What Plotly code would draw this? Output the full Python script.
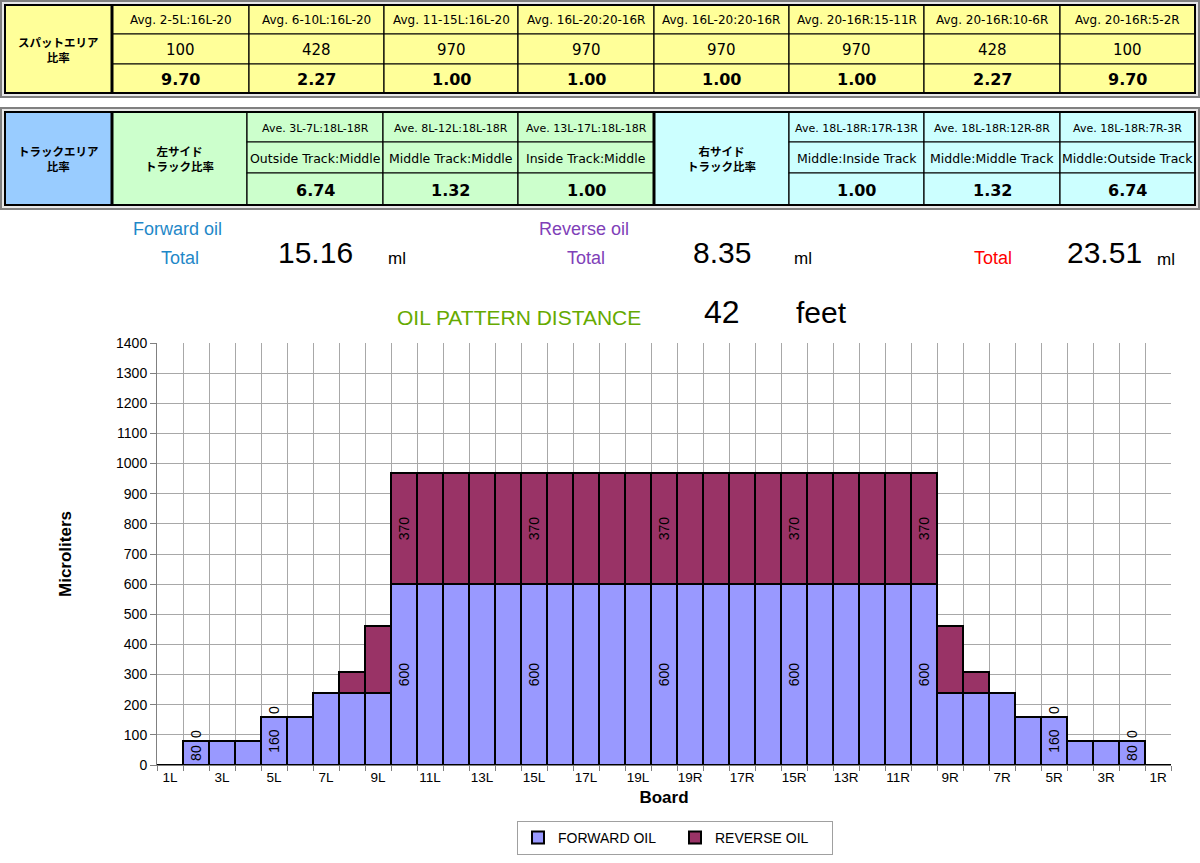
import plotly.graph_objects as go

# ---- data ----
boards = [f"{i}L" for i in range(1, 20)] + ["20"] + [f"{i}R" for i in range(19, 0, -1)]
forward_oil = [0, 80, 80, 80, 160, 160, 240, 240, 240] + [600] * 21 + [240, 240, 240, 160, 160, 80, 80, 80, 0]
reverse_oil = [0, 0, 0, 0, 0, 0, 0, 70, 220] + [370] * 21 + [220, 70, 0, 0, 0, 0, 0, 0, 0]
label_boards = ["2L", "5L", "10L", "15L", "20", "15R", "10R", "5R", "2R"]
tick_labels = [b if i % 2 == 0 else "" for i, b in enumerate(boards)]

spot_head = "スパットエリア<br>比率"
spot_ranges = ["Avg. 2-5L:16L-20", "Avg. 6-10L:16L-20", "Avg. 11-15L:16L-20", "Avg. 16L-20:20-16R",
               "Avg. 16L-20:20-16R", "Avg. 20-16R:15-11R", "Avg. 20-16R:10-6R", "Avg. 20-16R:5-2R"]
spot_values = ["100", "428", "970", "970", "970", "970", "428", "100"]
spot_ratios = ["9.70", "2.27", "1.00", "1.00", "1.00", "1.00", "2.27", "9.70"]

track_head = "トラックエリア<br>比率"
left_head = "左サイド<br>トラック比率"
right_head = "右サイド<br>トラック比率"
left_ranges = ["Ave. 3L-7L:18L-18R", "Ave. 8L-12L:18L-18R", "Ave. 13L-17L:18L-18R"]
left_names = ["Outside Track:Middle", "Middle Track:Middle", "Inside Track:Middle"]
left_ratios = ["6.74", "1.32", "1.00"]
right_ranges = ["Ave. 18L-18R:17R-13R", "Ave. 18L-18R:12R-8R", "Ave. 18L-18R:7R-3R"]
right_names = ["Middle:Inside Track", "Middle:Middle Track", "Middle:Outside Track"]
right_ratios = ["1.00", "1.32", "6.74"]

forward_total = "15.16"
reverse_total = "8.35"
grand_total = "23.51"
distance = "42"

W, H = 1200, 863
FWD = "#9999FF"
REV = "#993366"
SANS = "Liberation Sans, Arial, sans-serif"
TAB = "DejaVu Sans, Verdana, sans-serif"
JP = "Noto Sans CJK JP"


def px(x):
    return x / W


def py(y):
    return 1 - y / H


shapes = []
annotations = []


def rect(x0, y0, x1, y1, fill="rgba(0,0,0,0)", color="black", width=1):
    shapes.append(dict(type="rect", xref="paper", yref="paper", x0=px(x0), x1=px(x1),
                       y0=py(y1), y1=py(y0), fillcolor=fill, line=dict(color=color, width=width), layer="below"))


def text(x, y, s, size=12, color="black", family=SANS, bold=False, xanchor="center"):
    if bold:
        s = f"<b>{s}</b>"
    annotations.append(dict(x=px(x), y=py(y), xref="paper", yref="paper", text=s, showarrow=False,
                            xanchor=xanchor, yanchor="middle", font=dict(size=size, color=color, family=family)))


# ---- table 1: spot area ----
rect(1, 1, 1199, 97, fill="#E8E8E8", color="#808080", width=2)
cols1 = [5, 112, 249, 384, 518, 654, 789, 924, 1060, 1195]
rows1 = [5, 34, 64, 93]
rect(cols1[0], rows1[0], cols1[1], rows1[-1], fill="#FFFF99", width=1.5)
text((cols1[0] + cols1[1]) / 2, (rows1[0] + rows1[-1]) / 2, spot_head, 11.5, family=JP, bold=True)
for i in range(8):
    x0, x1 = cols1[i + 1], cols1[i + 2]
    for r, (vals, size, bold) in enumerate([(spot_ranges, 12, False), (spot_values, 15, False), (spot_ratios, 16, True)]):
        rect(x0, rows1[r], x1, rows1[r + 1], fill="#FFFF99", width=1.2)
        text((x0 + x1) / 2, (rows1[r] + rows1[r + 1]) / 2 + 1, vals[i], size, family=TAB, bold=bold)
rect(cols1[0], rows1[0], cols1[-1], rows1[-1], width=2)
shapes.append(dict(type="line", xref="paper", yref="paper", x0=px(112), x1=px(112), y0=py(5), y1=py(93),
                   line=dict(color="black", width=3)))

# ---- table 2: track area ----
rect(1, 108, 1199, 209, fill="#E8E8E8", color="#808080", width=2)
cols2 = [5, 112, 247, 383, 518, 654, 789, 924, 1060, 1195]
rows2 = [112, 142, 173, 205]
rect(cols2[0], rows2[0], cols2[1], rows2[-1], fill="#99CCFF", width=1.5)
text((cols2[0] + cols2[1]) / 2, (rows2[0] + rows2[-1]) / 2, track_head, 11.5, family=JP, bold=True)
for head, fill, c0, rng, nm, rt in [(left_head, "#CCFFCC", 1, left_ranges, left_names, left_ratios),
                                    (right_head, "#CCFFFF", 5, right_ranges, right_names, right_ratios)]:
    rect(cols2[c0], rows2[0], cols2[c0 + 1], rows2[-1], fill=fill, width=1.2)
    text((cols2[c0] + cols2[c0 + 1]) / 2, (rows2[0] + rows2[-1]) / 2, head, 11.5, family=JP, bold=True)
    for i in range(3):
        x0, x1 = cols2[c0 + 1 + i], cols2[c0 + 2 + i]
        for r, (vals, size, bold) in enumerate([(rng, 11, False), (nm, 12.5, False), (rt, 16, True)]):
            rect(x0, rows2[r], x1, rows2[r + 1], fill=fill, width=1.2)
            text((x0 + x1) / 2, (rows2[r] + rows2[r + 1]) / 2 + 1, vals[i], size, family=TAB, bold=bold)
rect(cols2[0], rows2[0], cols2[-1], rows2[-1], width=2)
for xl in (112, 654):
    shapes.append(dict(type="line", xref="paper", yref="paper", x0=px(xl), x1=px(xl), y0=py(112), y1=py(205),
                       line=dict(color="black", width=3)))

# ---- totals header ----
BLUE = "#1F88C8"
PURPLE = "#8040B8"
text(177, 229, "Forward oil", 18, BLUE)
text(180, 258, "Total", 18, BLUE)
text(316, 253, forward_total, 30)
text(397, 258, "ml", 17)
text(584, 229, "Reverse oil", 18, PURPLE)
text(586, 258, "Total", 18, PURPLE)
text(722, 253, reverse_total, 30)
text(803, 258, "ml", 17)
text(993, 258, "Total", 18, "#FF0000")
text(1104, 253, grand_total, 30)
text(1166, 259, "ml", 17)
text(519, 317, "OIL PATTERN DISTANCE", 21, "#66AA00")
text(722, 312, distance, 32)
text(821, 312, "feet", 30)

# ---- bars ----
fwd_text = [str(v) if b in label_boards else "" for b, v in zip(boards, forward_oil)]
rev_text = [str(v) if b in label_boards else "" for b, v in zip(boards, reverse_oil)]
rev_pos = ["outside" if v == 0 else "inside" for v in reverse_oil]

fig = go.Figure()
fig.add_trace(go.Bar(x=boards, y=forward_oil, name="FORWARD OIL", marker=dict(color=FWD, line=dict(color="black", width=2)),
                     text=fwd_text, textposition="inside", insidetextanchor="middle", textangle=-90,
                     textfont=dict(size=14, color="black", family=SANS), constraintext="none"))
fig.add_trace(go.Bar(x=boards, y=reverse_oil, name="REVERSE OIL", marker=dict(color=REV, line=dict(color="black", width=2)),
                     text=rev_text, textposition=rev_pos, insidetextanchor="middle", textangle=-90,
                     textfont=dict(size=14, color="black", family=SANS), constraintext="none", cliponaxis=False))

fig.update_layout(
    width=W, height=H, margin=dict(l=0, r=0, t=0, b=0),
    paper_bgcolor="white", plot_bgcolor="white",
    barmode="stack", bargap=0,
    font=dict(family=SANS, size=14, color="black"),
    shapes=shapes, annotations=annotations,
    showlegend=True,
    legend=dict(orientation="h", traceorder="normal", x=px(675), xanchor="center", y=py(821), yanchor="top",
                bordercolor="#A0A0A0", borderwidth=1, font=dict(size=14, family=SANS),
                entrywidth=112, itemwidth=30, tracegroupgap=0),
    xaxis=dict(domain=[px(157), px(1171)], type="category", categoryorder="array", categoryarray=boards,
               tickmode="array", tickvals=boards, ticktext=tick_labels, tickson="boundaries", tickangle=0,
               ticks="outside", ticklen=5, tickcolor="#808080", automargin=False,
               showgrid=True, gridcolor="#A8A8A8", gridwidth=1, showline=True, linecolor="#808080",
               title=dict(text="<b>Board</b>", font=dict(size=17), standoff=6),
               tickfont=dict(size=13.5)),
    yaxis=dict(domain=[py(765), py(343)], range=[0, 1400], dtick=100, tickmode="linear",
               ticks="outside", ticklen=6, tickcolor="#808080", automargin=False,
               showgrid=True, gridcolor="#A8A8A8", gridwidth=1, showline=True, linecolor="#808080",
               zeroline=False, title=dict(text="<b>Microliters</b>", font=dict(size=17), standoff=40),
               tickfont=dict(size=14)),
)

fig.write_html("out.html", config={"displayModeBar": False},
               post_script="document.body.style.margin='0';document.body.style.overflow='hidden';")
